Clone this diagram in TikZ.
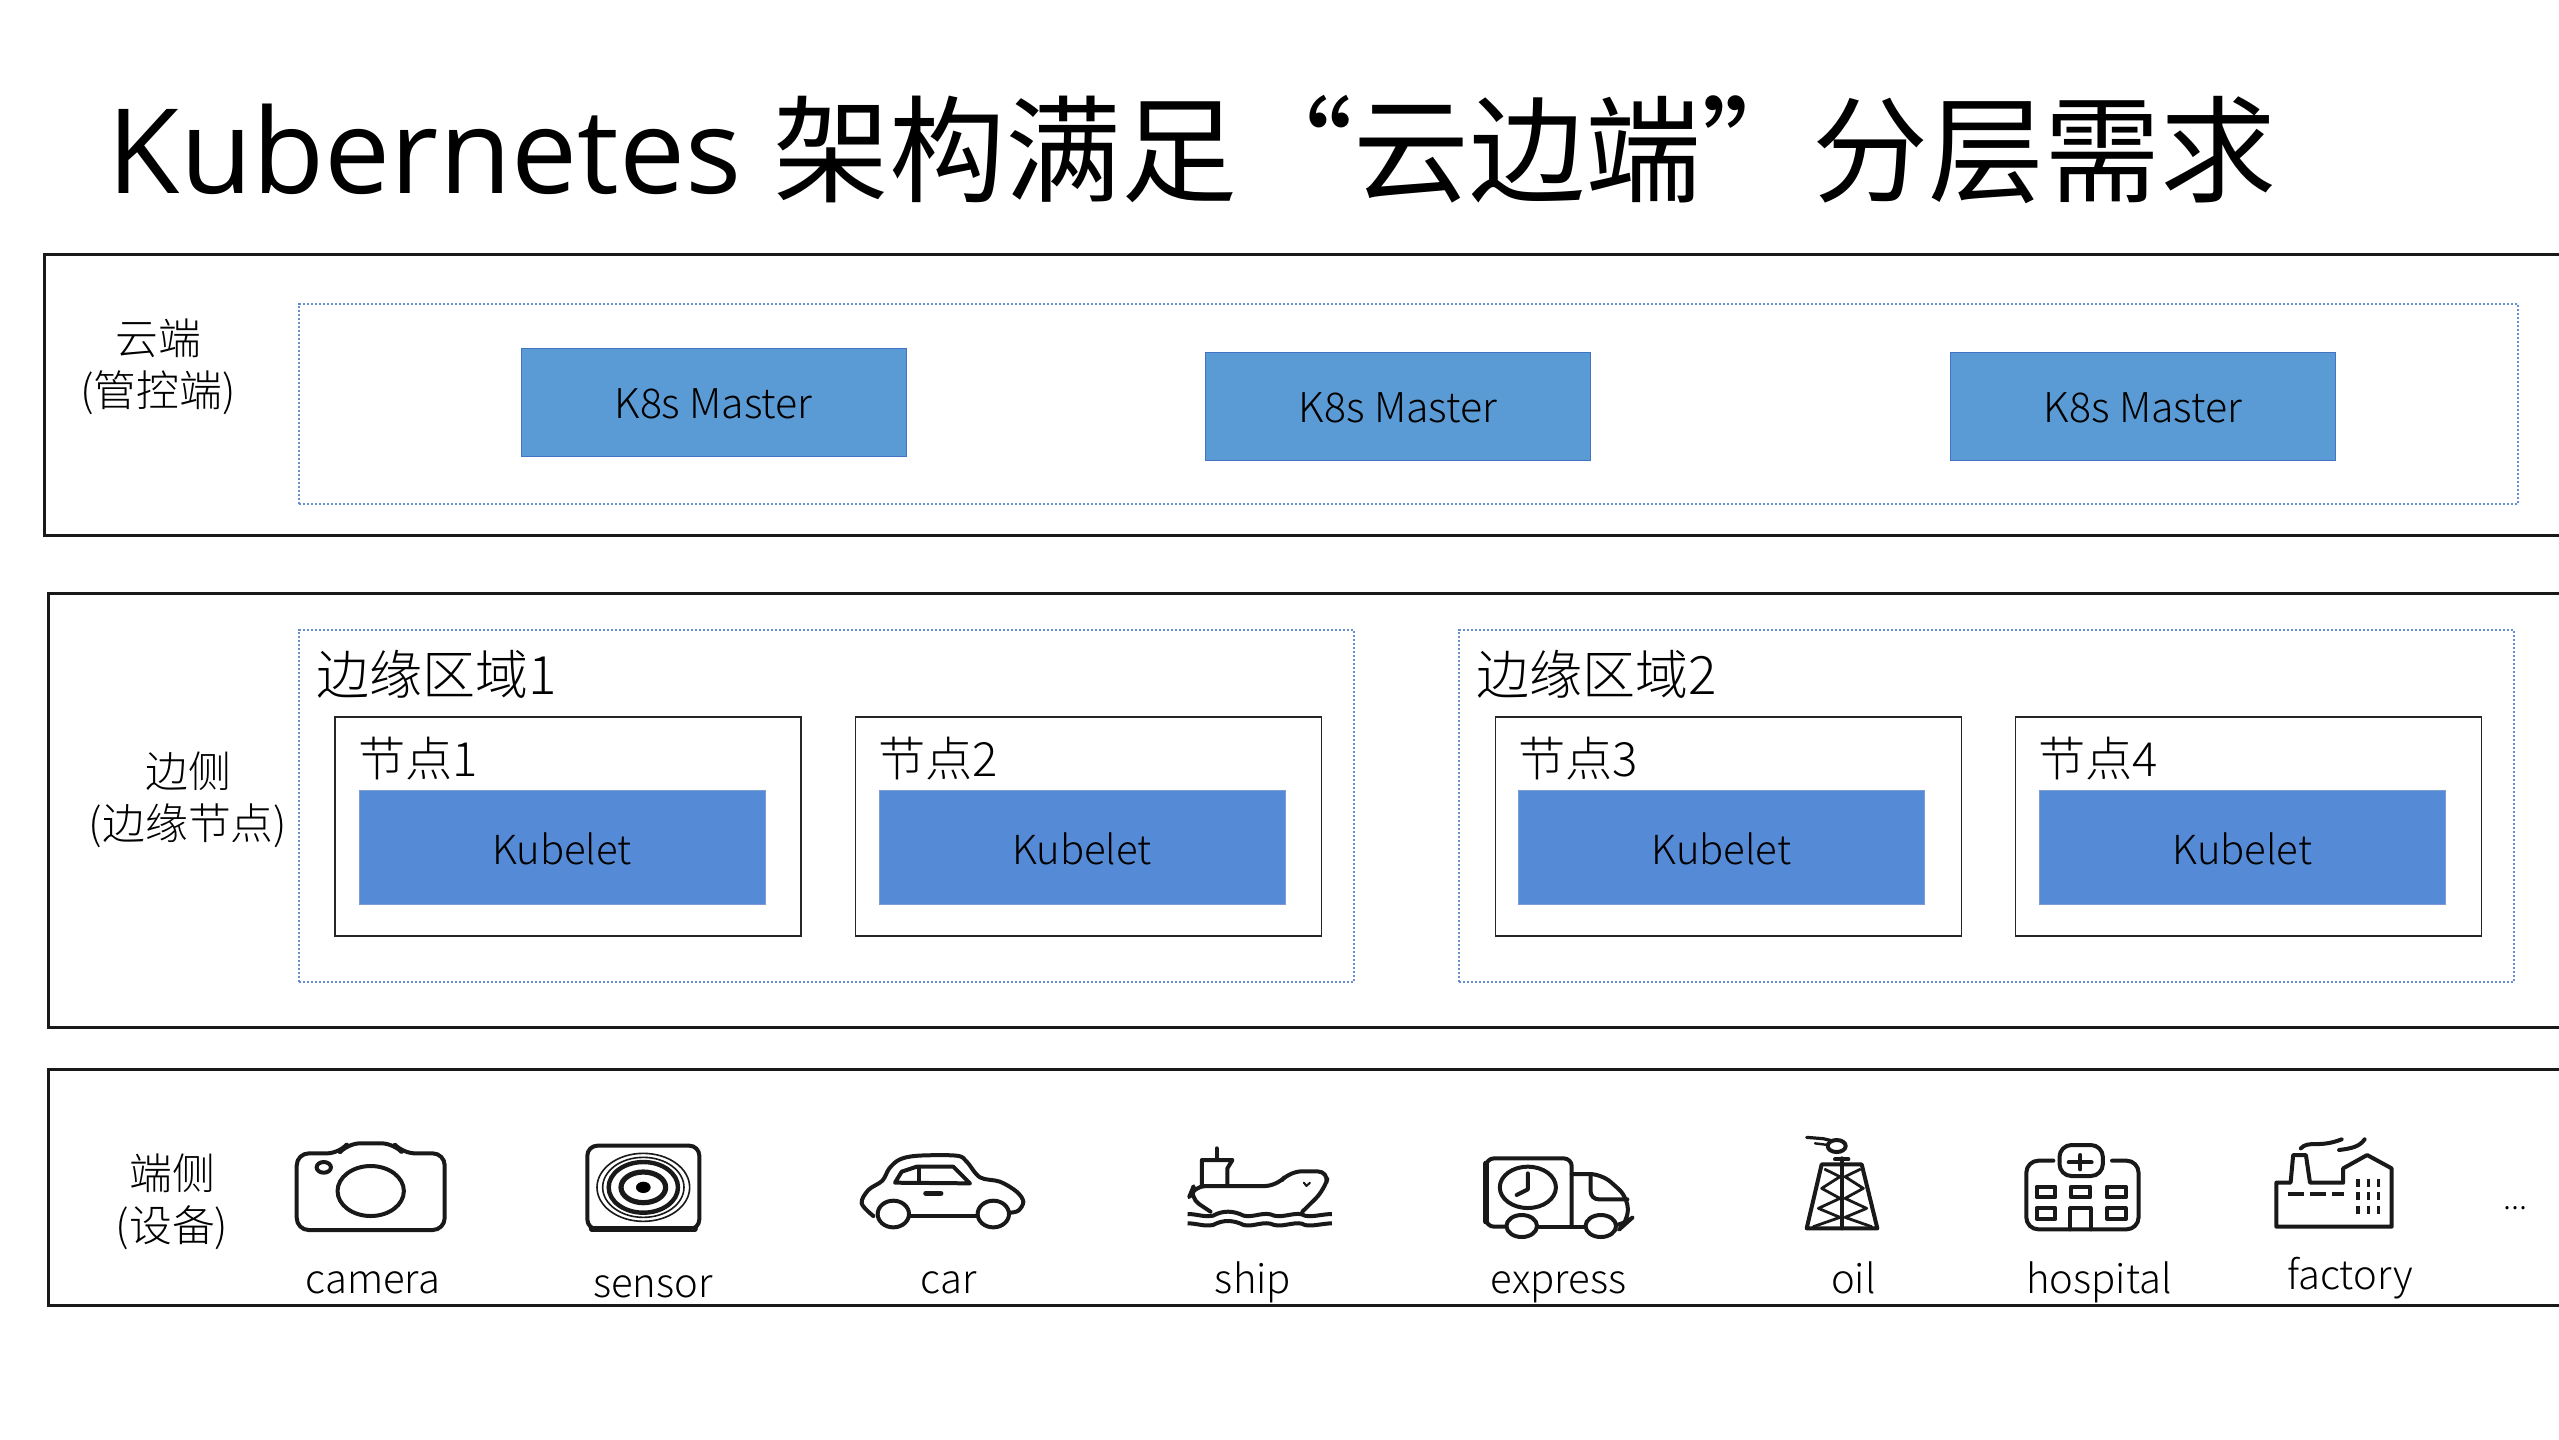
\documentclass[tikz,border=0pt]{standalone}
\usepackage{fontspec}
\usetikzlibrary{positioning}
\setmainfont{Noto Sans CJK SC Light}
\newfontfamily\titlecjk{Noto Sans CJK SC}
\newfontfamily\titlelatin{Open Sans}
\definecolor{masterblue}{HTML}{5B9BD5}
\definecolor{kubeblue}{HTML}{558BD6}
\definecolor{rimblue}{HTML}{4472C4}

\begin{document}
\begin{tikzpicture}[x=0.25pt,y=-0.25pt,
  zoomed/.style={x=0.12755pt,y=-0.08333pt},
  tripled/.style={x=0.08333pt,y=-0.08333pt},
  every node/.append style={inner sep=0pt,outer sep=0pt}]
  \tikzstyle{panel} = [draw=black!90,line width=0.75pt,minimum width=644pt]
  \tikzstyle{region} = [draw=rimblue!80,line width=0.28pt,dash pattern=on 0.6pt off 0.4pt]
  \tikzstyle{worker} = [draw=black!85,line width=0.35pt,minimum width=116.5pt,minimum height=54.75pt]
  \tikzstyle{master} = [draw=rimblue,fill=masterblue,line width=0.2pt,minimum width=96.25pt,minimum height=27pt,text height=8.5pt,font=\fontsize{10.25}{12}\selectfont]
  \tikzstyle{kubelet} = [draw=rimblue!70,fill=kubeblue,line width=0.2pt,minimum width=101.5pt,minimum height=28.5pt,text height=9pt,font=\fontsize{10}{12}\selectfont]
  \tikzstyle{side} = [align=center,font=\fontsize{10.7}{13}\selectfont]
  \tikzstyle{regionname} = [anchor=west,font=\fontsize{13.25}{15}\selectfont]
  \tikzstyle{workername} = [anchor=west,font=\fontsize{11.8}{14}\selectfont]
  \tikzstyle{device} = [anchor=base,font=\fontsize{10}{12}\selectfont]
  \tikzstyle{icon} = [draw=black!90,line width=1pt,line join=round,line cap=round]
  \useasboundingbox (0,0) rectangle (2559,1439);
  \fill[white] (0,0) rectangle (2559,1439);

  \node (title) [anchor=base west,font=\fontsize{29}{32}\selectfont] at (108,193) {{\titlelatin\fontsize{29.45}{32}\selectfont Kubernetes }\titlecjk\hspace{0.4pt}架构满足“云边端”\hspace{-1.2pt}分层需求};

  % three layers
  \node (cloudpanel) [panel,minimum height=70.25pt] at (1332,394.5) {};
  \node (edgepanel) [panel,minimum height=108.5pt] at (1336,810) {};
  \node (devicepanel) [panel,minimum height=59pt] at (1336,1187) {};

  \node (cloudlabel) [side] at (158,367) {云端\\(管控端)};
  \node (edgelabel) [side] at (188,800) {边侧\\(边缘节点)};
  \node (devicelabel) [side] at (172,1202) {端侧\\(设备)};

  % cloud
  \node (cloudregion) [region,minimum width=554.75pt,minimum height=50pt] at (1408.5,404) {};
  \node (master1) [master] at (713.5,402) {K8s Master};
  \node (master2) [master] at (1398,406) {K8s Master};
  \node (master3) [master] at (2143,406) {K8s Master};

  % edge
  \node (region1) [region,minimum width=263.75pt,minimum height=88pt] at (826.5,806) {};
  \node (region2) [region,minimum width=263.75pt,minimum height=88pt] at (1986.5,806) {};
  \node (region1name) [regionname] at (316,674) {边缘区域1};
  \node (region2name) [regionname] at (1476,674) {边缘区域2};
  \node (worker1) [worker] at (568,826.5) {};
  \node (worker2) [worker] at (1088.5,826.5) {};
  \node (worker3) [worker] at (1728.5,826.5) {};
  \node (worker4) [worker] at (2248.5,826.5) {};
  \node (worker1name) [workername] at (358,759) {节点1};
  \node (worker2name) [workername] at (878,759) {节点2};
  \node (worker3name) [workername] at (1518,759) {节点3};
  \node (worker4name) [workername] at (2038,759) {节点4};
  \node (kubelet1) [kubelet] at (562,847) {Kubelet};
  \node (kubelet2) [kubelet] at (1082,847) {Kubelet};
  \node (kubelet3) [kubelet] at (1721.5,847) {Kubelet};
  \node (kubelet4) [kubelet] at (2242.5,847) {Kubelet};

  % devices
  \node (camera) [device] at (373,1293.5) {camera};
  \node (sensor) [device] at (653,1297.5) {sensor};
  \node (car) [device] at (948.5,1293.5) {car};
  \node (ship) [device] at (1253,1293.5) {ship};
  \node (express) [device] at (1558.5,1293.5) {express};
  \node (oil) [device] at (1853.5,1293.5) {oil};
  \node (hospital) [device] at (2099,1293.5) {hospital};
  \node (factory) [device] at (2350,1289.5) {factory};
  \node (more) [device,font=\fontsize{8}{9}\selectfont] at (2515,1209) {...};

  \begin{scope}[shift={(260,1110)},zoomed]
    % camera
    \draw[icon,rounded corners=3pt] (72,130) -- (155,130) -- (172,100) -- (262,100) -- (280,130) -- (362,130) -- (362,360) -- (72,360) -- cycle;
    \draw[icon] (217,243) ellipse (65 and 75);
    \draw[icon] (125,172) ellipse (14 and 16);
  \end{scope}

  % sensor
  \begin{scope}[shift={(560,1130)},tripled]
    \draw[icon,rounded corners=2.5pt] (82,47) rectangle (418,298);
    \draw[icon,line width=1.4pt] (95,297) -- (405,297);
    \draw[icon,line width=0.4pt] (250,172) ellipse (139 and 102);
    \draw[icon,line width=0.4pt] (250,172) ellipse (122 and 90);
    \draw[icon,line width=1.1pt] (250,172) ellipse (104 and 76);
    \draw[icon,line width=1.3pt] (250,172) ellipse (67 and 46);
    \fill (250,172) ellipse (22 and 17);
  \end{scope}

  % car
  \begin{scope}[shift={(850,1140)},tripled]
    \draw[icon] plot[smooth,tension=0.55] coordinates {(70,228) (35,190) (55,150) (97,122) (118,85) (150,58) (205,47) (320,47) (350,65) (390,112) (450,125) (500,155) (520,185) (505,212) (480,218)};
    \draw[icon] (180,228) -- (385,228);
    \draw[icon] (135,128) -- (155,95) -- (200,80) -- (310,80) -- (360,130) -- cycle;
    \draw[icon] (207,85) -- (207,128);
    \draw[icon,line width=1.4pt] (228,160) -- (272,160);
    \draw[icon,fill=white] (130,222) ellipse (47 and 40);
    \draw[icon,fill=white] (430,222) ellipse (47 and 40);
  \end{scope}

  \begin{scope}[shift={(1060,1110)},zoomed]
    % ship
    \draw[icon] (307,115) -- (307,150);
    \draw[icon] (278,228) -- (278,150) -- (338,150) -- (328,175) -- (328,228);
    \draw[icon,rounded corners=3pt] (295,305) -- (253,262) -- (262,228) -- (425,228) -- (450,184) -- (528,184) -- (518,240) -- (475,305);
    \draw[icon,line width=0.5pt] (478,218) -- (483,228) -- (490,218);
    \foreach \wavey in {312,340}
      \draw[icon,line cap=butt] (250,\wavey) .. controls (270,\wavey) and (280,\wavey+10) .. (300,\wavey+5) .. controls (320,\wavey-12) and (340,\wavey-10) .. (360,\wavey+5) .. controls (380,\wavey+12) and (400,\wavey-10) .. (420,\wavey+5) .. controls (440,\wavey+12) and (465,\wavey-10) .. (480,\wavey+5) .. controls (495,\wavey+10) and (515,\wavey) .. (533,\wavey);
    % express
    \draw[icon,rounded corners=2pt] (875,350) -- (835,350) -- (835,145) -- (1003,145) -- (1003,350);
    \draw[icon,line width=1.4pt] (835,160) -- (835,335);
    \draw[icon] (935,350) -- (1030,350);
    \draw[icon] (917,232) ellipse (55 and 62);
    \draw[icon] (917,190) -- (917,238) -- (895,255);
    \draw[icon,rounded corners=3pt] (1003,192) -- (1062,192) -- (1113,262) -- (1113,335) -- (1105,346) -- (1085,346);
    \draw[icon,rounded corners=2pt] (1040,192) -- (1040,268) -- (1112,268);
    \draw[icon,fill=white] (905,348) ellipse (30 and 33);
    \draw[icon,fill=white] (1060,348) ellipse (30 and 33);
  \end{scope}

  % oil
  \begin{scope}[shift={(1790,1130)},tripled]
    \draw[icon] (50,295) -- (95,103) -- (215,103) -- (262,295) -- cycle;
    \draw[icon] (155,85) -- (155,295);
    \draw[icon] (135,88) -- (175,88);
    \draw[icon,line width=0.7pt] (105,118) -- (150,140) -- (95,175) -- (150,205) -- (85,235) -- (150,262) -- (70,290);
    \draw[icon,line width=0.7pt] (210,118) -- (165,140) -- (220,175) -- (165,205) -- (230,235) -- (165,262) -- (245,290);
    \draw[icon] (140,48) ellipse (27 and 18);
    \draw[icon,line width=0.8pt] (50,22) -- (100,26) -- (125,32);
    \draw[icon,line width=0.6pt] (75,40) -- (115,45);
  \end{scope}

  \begin{scope}[shift={(1760,1110)},zoomed]
    % hospital
    \draw[icon,rounded corners=3pt] (575,152) -- (522,152) -- (522,358) -- (742,358) -- (742,152) -- (690,152);
    \draw[icon,rounded corners=3pt] (587,105) rectangle (672,198);
    \draw[icon] (628,135) -- (628,178);
    \draw[icon] (605,157) -- (650,157);
    \foreach \windowx in {542,610,680}
      \draw[icon] (\windowx,230) rectangle +(37,32);
    \foreach \windowx in {542,680}
      \draw[icon] (\windowx,295) rectangle +(37,32);
    \draw[icon] (608,358) -- (608,295) -- (648,295) -- (648,358);
    % factory
    \draw[icon] (1012,350) -- (1012,218) -- (1040,218) -- (1045,135) -- (1070,135) -- (1078,218) -- (1143,218) -- (1143,175) -- (1190,135) -- (1238,175) -- (1238,350) -- cycle;
    \draw[icon,line cap=butt,dash pattern=on 4pt off 1.5pt] (1035,252) -- (1145,252);
    \foreach \dotx in {1172,1192,1212}
      \foreach \doty in {207,247,287}
        \draw[icon,line cap=butt,line width=0.8pt] (\dotx,\doty) -- (\dotx,\doty+24);
    \draw[icon] (1060,115) .. controls (1075,90) and (1095,115) .. (1140,88);
    \draw[icon] (1135,120) .. controls (1160,115) and (1175,110) .. (1185,88);
  \end{scope}
\end{tikzpicture}
\end{document}
